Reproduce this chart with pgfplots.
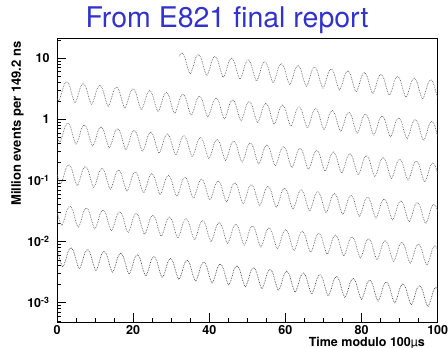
\documentclass[border=0pt]{standalone}
\usepackage{fontspec}
\setmainfont{TeX Gyre Heros}
\usepackage{pgfplots}
\pgfplotsset{compat=1.18}
\definecolor{titleblue}{RGB}{51,51,204}
\begin{document}
\begin{tikzpicture}
\path[use as bounding box] (-57pt,-26pt) rectangle (391pt,322pt);
\begin{axis}[
  at={(0pt,0pt)}, anchor=south west,
  scale only axis, width=380.7pt, height=284pt,
  xmin=0, xmax=100, ymode=log, ymin=4.8e-4, ymax=21.5,
  xtick={0,20,40,60,80,100}, minor x tick num=3,
  ytick={0.001,0.01,0.1,1,10},
  yticklabels={10\textsuperscript{-3},10\textsuperscript{-2},10\textsuperscript{-1},1,10},
  minor ytick={5e-4,6e-4,7e-4,8e-4,9e-4,2e-3,3e-3,4e-3,5e-3,6e-3,7e-3,8e-3,9e-3,2e-2,3e-2,4e-2,5e-2,6e-2,7e-2,8e-2,9e-2,0.2,0.3,0.4,0.5,0.6,0.7,0.8,0.9,2,3,4,5,6,7,8,9,20},
  tick pos=left, tick align=inside,
  major tick length=9pt, minor tick length=4.5pt,
  ticklabel style={font=\fontsize{12.5}{14}\selectfont\bfseries},
  yticklabel style={xshift=-4pt},
  /pgf/number format/assume math mode=true,
  axis line style={black, line width=0.8pt},
  every tick/.style={black, line width=0.7pt},
  clip=true,
]
\addplot[black!62, densely dotted, line width=0.7pt, smooth] coordinates {
(32.07,10.81)
(32.80,12.32) (33.53,10.57) (34.25,7.260) (34.98,5.603) (35.71,7.097) (36.43,10.10)
(37.16,11.51) (37.89,9.872) (38.61,6.783) (39.34,5.234) (40.07,6.630) (40.79,9.434)
(41.52,10.75) (42.25,9.222) (42.97,6.336) (43.70,4.890) (44.43,6.194) (45.15,8.813)
(45.88,10.04) (46.61,8.615) (47.33,5.919) (48.06,4.568) (48.79,5.787) (49.51,8.233)
(50.24,9.382) (50.97,8.049) (51.69,5.530) (52.42,4.267) (53.15,5.406) (53.87,7.691)
(54.60,8.765) (55.33,7.519) (56.05,5.166) (56.78,3.987) (57.51,5.050) (58.23,7.185)
(58.96,8.188) (59.69,7.024) (60.41,4.826) (61.14,3.724) (61.87,4.718) (62.59,6.712)
(63.32,7.649) (64.05,6.562) (64.77,4.509) (65.50,3.479) (66.23,4.407) (66.95,6.271)
(67.68,7.146) (68.41,6.130) (69.13,4.212) (69.86,3.250) (70.59,4.117) (71.31,5.858)
(72.04,6.676) (72.77,5.727) (73.49,3.935) (74.22,3.036) (74.95,3.846) (75.67,5.473)
(76.40,6.236) (77.13,5.350) (77.85,3.676) (78.58,2.837) (79.31,3.593) (80.03,5.112)
(80.76,5.826) (81.49,4.998) (82.21,3.434) (82.94,2.650) (83.67,3.357) (84.39,4.776)
(85.12,5.443) (85.85,4.669) (86.57,3.208) (87.30,2.476) (88.03,3.136) (88.75,4.462)
(89.48,5.084) (90.21,4.362) (90.93,2.997) (91.66,2.313) (92.39,2.930) (93.11,4.168)
(93.84,4.750) (94.57,4.075) (95.29,2.800) (96.02,2.161) (96.75,2.737) (97.47,3.894)
(98.20,4.437) (98.93,3.807) (99.65,2.615) (100.38,2.018)
};
\addplot[black!62, densely dotted, line width=0.7pt, smooth] coordinates {
(-0.35,2.615) (0.38,2.018) (1.11,2.557) (1.83,3.638)
(2.56,4.145) (3.29,3.556) (4.01,2.443) (4.74,1.886) (5.47,2.388) (6.19,3.398)
(6.92,3.873) (7.65,3.322) (8.37,2.283) (9.10,1.761) (9.83,2.231) (10.55,3.175)
(11.28,3.618) (12.01,3.104) (12.73,2.132) (13.46,1.646) (14.19,2.085) (14.91,2.966)
(15.64,3.380) (16.37,2.899) (17.09,1.992) (17.82,1.537) (18.55,1.947) (19.27,2.771)
(20.00,3.157) (20.73,2.709) (21.45,1.861) (22.18,1.436) (22.91,1.819) (23.63,2.588)
(24.36,2.950) (25.09,2.530) (25.81,1.739) (26.54,1.342) (27.27,1.699) (27.99,2.418)
(28.72,2.755) (29.45,2.364) (30.17,1.624) (30.90,1.253) (31.63,1.588) (32.35,2.259)
(33.08,2.574) (33.81,2.208) (34.53,1.517) (35.26,1.171) (35.99,1.483) (36.71,2.110)
(37.44,2.405) (38.17,2.063) (38.89,1.417) (39.62,1.094) (40.35,1.386) (41.07,1.971)
(41.80,2.247) (42.53,1.927) (43.25,1.324) (43.98,1.022) (44.71,1.294) (45.43,1.842)
(46.16,2.099) (46.89,1.800) (47.61,1.237) (48.34,0.9546) (49.07,1.209) (49.79,1.721)
(50.52,1.961) (51.25,1.682) (51.97,1.156) (52.70,0.8918) (53.43,1.130) (54.15,1.607)
(54.88,1.832) (55.61,1.571) (56.33,1.080) (57.06,0.8331) (57.79,1.055) (58.51,1.502)
(59.24,1.711) (59.97,1.468) (60.69,1.009) (61.42,0.7783) (62.15,0.9859) (62.87,1.403)
(63.60,1.599) (64.33,1.371) (65.05,0.9422) (65.78,0.7271) (66.51,0.9210) (67.23,1.310)
(67.96,1.493) (68.69,1.281) (69.41,0.8802) (70.14,0.6792) (70.87,0.8604) (71.59,1.224)
(72.32,1.395) (73.05,1.197) (73.77,0.8223) (74.50,0.6346) (75.23,0.8038) (75.95,1.144)
(76.68,1.303) (77.41,1.118) (78.13,0.7682) (78.86,0.5928) (79.59,0.7509) (80.31,1.068)
(81.04,1.218) (81.77,1.044) (82.49,0.7176) (83.22,0.5538) (83.95,0.7015) (84.67,0.9981)
(85.40,1.137) (86.13,0.9757) (86.85,0.6704) (87.58,0.5173) (88.31,0.6553) (89.03,0.9324)
(89.76,1.063) (90.49,0.9115) (91.21,0.6263) (91.94,0.4833) (92.67,0.6122) (93.39,0.8711)
(94.12,0.9926) (94.85,0.8516) (95.57,0.5851) (96.30,0.4515) (97.03,0.5719) (97.75,0.8137)
(98.48,0.9273) (99.21,0.7955) (99.93,0.5466) (100.66,0.4218)
};
\addplot[black!62, densely dotted, line width=0.7pt, smooth] coordinates {
(-0.79,0.7955) (-0.07,0.5466) (0.66,0.4218) (1.39,0.5343) (2.11,0.7602)
(2.84,0.8663) (3.57,0.7432) (4.29,0.5106) (5.02,0.3940) (5.75,0.4991) (6.47,0.7102)
(7.20,0.8093) (7.93,0.6943) (8.65,0.4770) (9.38,0.3681) (10.11,0.4663) (10.83,0.6634)
(11.56,0.7560) (12.29,0.6486) (13.01,0.4456) (13.74,0.3439) (14.47,0.4356) (15.19,0.6198)
(15.92,0.7063) (16.65,0.6059) (17.37,0.4163) (18.10,0.3213) (18.83,0.4069) (19.55,0.5790)
(20.28,0.6598) (21.01,0.5660) (21.73,0.3889) (22.46,0.3001) (23.19,0.3802) (23.91,0.5409)
(24.64,0.6164) (25.37,0.5288) (26.09,0.3633) (26.82,0.2804) (27.55,0.3551) (28.27,0.5053)
(29.00,0.5758) (29.73,0.4940) (30.45,0.3394) (31.18,0.2619) (31.91,0.3318) (32.63,0.4721)
(33.36,0.5379) (34.09,0.4615) (34.81,0.3171) (35.54,0.2447) (36.27,0.3100) (36.99,0.4410)
(37.72,0.5025) (38.45,0.4311) (39.17,0.2962) (39.90,0.2286) (40.63,0.2896) (41.35,0.4120)
(42.08,0.4695) (42.81,0.4028) (43.53,0.2767) (44.26,0.2135) (44.99,0.2705) (45.71,0.3849)
(46.44,0.4386) (47.17,0.3763) (47.89,0.2585) (48.62,0.1995) (49.35,0.2527) (50.07,0.3595)
(50.80,0.4097) (51.53,0.3515) (52.25,0.2415) (52.98,0.1864) (53.71,0.2361) (54.43,0.3359)
(55.16,0.3828) (55.89,0.3284) (56.61,0.2256) (57.34,0.1741) (58.07,0.2205) (58.79,0.3138)
(59.52,0.3576) (60.25,0.3068) (60.97,0.2108) (61.70,0.1626) (62.43,0.2060) (63.15,0.2931)
(63.88,0.3341) (64.61,0.2866) (65.33,0.1969) (66.06,0.1519) (66.79,0.1925) (67.51,0.2739)
(68.24,0.3121) (68.97,0.2677) (69.69,0.1839) (70.42,0.1420) (71.15,0.1798) (71.87,0.2558)
(72.60,0.2915) (73.33,0.2501) (74.05,0.1718) (74.78,0.1326) (75.51,0.1680) (76.23,0.2390)
(76.96,0.2724) (77.69,0.2336) (78.41,0.1605) (79.14,0.1239) (79.87,0.1569) (80.59,0.2233)
(81.32,0.2544) (82.05,0.2183) (82.77,0.1500) (83.50,0.1157) (84.23,0.1466) (84.95,0.2086)
(85.68,0.2377) (86.41,0.2039) (87.13,0.1401) (87.86,0.1081) (88.59,0.1370) (89.31,0.1949)
(90.04,0.2220) (90.77,0.1905) (91.49,0.1309) (92.22,0.1010) (92.95,0.1279) (93.67,0.1820)
(94.40,0.2074) (95.13,0.1779) (95.85,0.1223) (96.58,0.09435) (97.31,0.1195) (98.03,0.1700)
(98.76,0.1938) (99.49,0.1662) (100.21,0.1142)
};
\addplot[black!62, densely dotted, line width=0.7pt, smooth] coordinates {
(-0.51,0.1662) (0.21,0.1142) (0.94,0.08814) (1.67,0.1117) (2.39,0.1589)
(3.12,0.1810) (3.85,0.1553) (4.57,0.1067) (5.30,0.08234) (6.03,0.1043) (6.75,0.1484)
(7.48,0.1691) (8.21,0.1451) (8.93,0.09968) (9.66,0.07692) (10.39,0.09744) (11.11,0.1386)
(11.84,0.1580) (12.57,0.1355) (13.29,0.09312) (14.02,0.07186) (14.75,0.09103) (15.47,0.1295)
(16.20,0.1476) (16.93,0.1266) (17.65,0.08700) (18.38,0.06714) (19.11,0.08504) (19.83,0.1210)
(20.56,0.1379) (21.29,0.1183) (22.01,0.08127) (22.74,0.06272) (23.47,0.07945) (24.19,0.1130)
(24.92,0.1288) (25.65,0.1105) (26.37,0.07592) (27.10,0.05859) (27.83,0.07422) (28.55,0.1056)
(29.28,0.1203) (30.01,0.1032) (30.73,0.07093) (31.46,0.05474) (32.19,0.06933) (32.91,0.09865)
(33.64,0.1124) (34.37,0.09644) (35.09,0.06626) (35.82,0.05113) (36.55,0.06477) (37.27,0.09216)
(38.00,0.1050) (38.73,0.09009) (39.45,0.06190) (40.18,0.04777) (40.91,0.06051) (41.63,0.08609)
(42.36,0.09811) (43.09,0.08416) (43.81,0.05783) (44.54,0.04463) (45.27,0.05653) (45.99,0.08043)
(46.72,0.09165) (47.45,0.07863) (48.17,0.05402) (48.90,0.04169) (49.63,0.05281) (50.35,0.07514)
(51.08,0.08562) (51.81,0.07345) (52.53,0.05047) (53.26,0.03895) (53.99,0.04933) (54.71,0.07019)
(55.44,0.07999) (56.17,0.06862) (56.89,0.04715) (57.62,0.03638) (58.35,0.04609) (59.07,0.06557)
(59.80,0.07473) (60.53,0.06410) (61.25,0.04404) (61.98,0.03399) (62.71,0.04305) (63.43,0.06126)
(64.16,0.06981) (64.89,0.05989) (65.61,0.04115) (66.34,0.03175) (67.07,0.04022) (67.79,0.05723)
(68.52,0.06521) (69.25,0.05595) (69.97,0.03844) (70.70,0.02966) (71.43,0.03758) (72.15,0.05346)
(72.88,0.06092) (73.61,0.05226) (74.33,0.03591) (75.06,0.02771) (75.79,0.03510) (76.51,0.04994)
(77.24,0.05691) (77.97,0.04882) (78.69,0.03355) (79.42,0.02589) (80.15,0.03279) (80.87,0.04666)
(81.60,0.05317) (82.33,0.04561) (83.05,0.03134) (83.78,0.02418) (84.51,0.03063) (85.23,0.04359)
(85.96,0.04967) (86.69,0.04261) (87.41,0.02928) (88.14,0.02259) (88.87,0.02862) (89.59,0.04072)
(90.32,0.04640) (91.05,0.03981) (91.77,0.02735) (92.50,0.02111) (93.23,0.02674) (93.95,0.03804)
(94.68,0.04335) (95.41,0.03719) (96.13,0.02555) (96.86,0.01972) (97.59,0.02498) (98.31,0.03554)
(99.04,0.04050) (99.77,0.03474) (100.49,0.02387)
};
\addplot[black!62, densely dotted, line width=0.7pt, smooth] coordinates {
(-0.23,0.03474) (0.49,0.02387) (1.22,0.01842) (1.95,0.02333) (2.67,0.03320)
(3.40,0.03783) (4.13,0.03246) (4.85,0.02230) (5.58,0.01721) (6.31,0.02180) (7.03,0.03101)
(7.76,0.03534) (8.49,0.03032) (9.21,0.02083) (9.94,0.01608) (10.67,0.02036) (11.39,0.02897)
(12.12,0.03302) (12.85,0.02832) (13.57,0.01946) (14.30,0.01502) (15.03,0.01902) (15.75,0.02707)
(16.48,0.03084) (17.21,0.02646) (17.93,0.01818) (18.66,0.01403) (19.39,0.01777) (20.11,0.02529)
(20.84,0.02881) (21.57,0.02472) (22.29,0.01698) (23.02,0.01311) (23.75,0.01660) (24.47,0.02362)
(25.20,0.02692) (25.93,0.02309) (26.65,0.01587) (27.38,0.01224) (28.11,0.01551) (28.83,0.02207)
(29.56,0.02515) (30.29,0.02157) (31.01,0.01482) (31.74,0.01144) (32.47,0.01449) (33.19,0.02061)
(33.92,0.02349) (34.65,0.02015) (35.37,0.01385) (36.10,0.01069) (36.83,0.01354) (37.55,0.01926)
(38.28,0.02195) (39.01,0.01883) (39.73,0.01294) (40.46,0.009982) (41.19,0.01265) (41.91,0.01799)
(42.64,0.02050) (43.37,0.01759) (44.09,0.01208) (44.82,0.009325) (45.55,0.01181) (46.27,0.01681)
(47.00,0.01915) (47.73,0.01643) (48.45,0.01129) (49.18,0.008712) (49.91,0.01104) (50.63,0.01570)
(51.36,0.01789) (52.09,0.01535) (52.81,0.01055) (53.54,0.008139) (54.27,0.01031) (54.99,0.01467)
(55.72,0.01672) (56.45,0.01434) (57.17,0.009852) (57.90,0.007603) (58.63,0.009631) (59.35,0.01370)
(60.08,0.01562) (60.81,0.01340) (61.53,0.009204) (62.26,0.007103) (62.99,0.008997) (63.71,0.01280)
(64.44,0.01459) (65.17,0.01252) (65.89,0.008599) (66.62,0.006636) (67.35,0.008406) (68.07,0.01196)
(68.80,0.01363) (69.53,0.01169) (70.25,0.008033) (70.98,0.006199) (71.71,0.007852) (72.43,0.01117)
(73.16,0.01273) (73.89,0.01092) (74.61,0.007504) (75.34,0.005791) (76.07,0.007336) (76.79,0.01044)
(77.52,0.01189) (78.25,0.01020) (78.97,0.007010) (79.70,0.005410) (80.43,0.006853) (81.15,0.009750)
(81.88,0.01111) (82.61,0.009532) (83.33,0.006549) (84.06,0.005054) (84.79,0.006402) (85.51,0.009109)
(86.24,0.01038) (86.97,0.008905) (87.69,0.006118) (88.42,0.004721) (89.15,0.005981) (89.87,0.008509)
(90.60,0.009697) (91.33,0.008319) (92.05,0.005716) (92.78,0.004411) (93.51,0.005587) (94.23,0.007949)
(94.96,0.009059) (95.69,0.007771) (96.41,0.005339) (97.14,0.004121) (97.87,0.005220) (98.59,0.007426)
(99.32,0.008463) (100.05,0.007260)
};
\addplot[black!75, densely dotted, line width=0.7pt, smooth] coordinates {
(-0.68,0.008463) (0.05,0.007260) (0.77,0.004988) (1.50,0.003849) (2.23,0.004876) (2.95,0.006938)
(3.68,0.007906) (4.41,0.006782) (5.13,0.004660) (5.86,0.003596) (6.59,0.004555) (7.31,0.006481)
(8.04,0.007386) (8.77,0.006336) (9.49,0.004353) (10.22,0.003359) (10.95,0.004256) (11.67,0.006055)
(12.40,0.006900) (13.13,0.005919) (13.85,0.004067) (14.58,0.003138) (15.31,0.003975) (16.03,0.005656)
(16.76,0.006446) (17.49,0.005530) (18.21,0.003799) (18.94,0.002932) (19.67,0.003714) (20.39,0.005284)
(21.12,0.006022) (21.85,0.005166) (22.57,0.003549) (23.30,0.002739) (24.03,0.003469) (24.75,0.004936)
(25.48,0.005625) (26.21,0.004826) (26.93,0.003316) (27.66,0.002559) (28.39,0.003241) (29.11,0.004612)
(29.84,0.005255) (30.57,0.004508) (31.29,0.003097) (32.02,0.002390) (32.75,0.003028) (33.47,0.004308)
(34.20,0.004909) (34.93,0.004212) (35.65,0.002894) (36.38,0.002233) (37.11,0.002829) (37.83,0.004025)
(38.56,0.004586) (39.29,0.003934) (40.01,0.002703) (40.74,0.002086) (41.47,0.002643) (42.19,0.003760)
(42.92,0.004285) (43.65,0.003676) (44.37,0.002525) (45.10,0.001949) (45.83,0.002469) (46.55,0.003512)
(47.28,0.004003) (48.01,0.003434) (48.73,0.002359) (49.46,0.001821) (50.19,0.002306) (50.91,0.003281)
(51.64,0.003739) (52.37,0.003208) (53.09,0.002204) (53.82,0.001701) (54.55,0.002155) (55.27,0.003065)
(56.00,0.003493) (56.73,0.002997) (57.45,0.002059) (58.18,0.001589) (58.91,0.002013) (59.63,0.002864)
(60.36,0.003263) (61.09,0.002800) (61.81,0.001923) (62.54,0.001484) (63.27,0.001880) (63.99,0.002675)
(64.72,0.003049) (65.45,0.002615) (66.17,0.001797) (66.90,0.001387) (67.63,0.001757) (68.35,0.002499)
(69.08,0.002848) (69.81,0.002443) (70.53,0.001679) (71.26,0.001295) (71.99,0.001641) (72.71,0.002335)
(73.44,0.002661) (74.17,0.002282) (74.89,0.001568) (75.62,0.001210) (76.35,0.001533) (77.07,0.002181)
(77.80,0.002486) (78.53,0.002132) (79.25,0.001465) (79.98,0.001131) (80.71,0.001432) (81.43,0.002038)
(82.16,0.002322) (82.89,0.001992) (83.61,0.001369) (84.34,0.001056) (85.07,0.001338) (85.79,0.001903)
(86.52,0.002169) (87.25,0.001861) (87.97,0.001279) (88.70,0.0009867) (89.43,0.001250) (90.15,0.001778)
(90.88,0.002026) (91.61,0.001738) (92.33,0.001194) (93.06,0.0009217) (93.79,0.001168) (94.51,0.001661)
(95.24,0.001893) (95.97,0.001624) (96.69,0.001116) (97.42,0.0008611) (98.15,0.001091) (98.87,0.001552)
(99.60,0.001769) (100.33,0.001517)
};
\end{axis}
\node[anchor=base, font=\fontsize{28.5}{32}\selectfont, text=titleblue] at (170pt,294pt) {From E821 final report};
\node[rotate=90, anchor=base east, font=\fontsize{13}{15}\selectfont\bfseries] at (-36pt,284pt) {Million events per 149.2 ns};
\node[anchor=base east, font=\fontsize{12.5}{14}\selectfont\bfseries] at (371.3pt,-24.7pt) {Time modulo 100{\mdseries µ}s};
\end{tikzpicture}
\end{document}
